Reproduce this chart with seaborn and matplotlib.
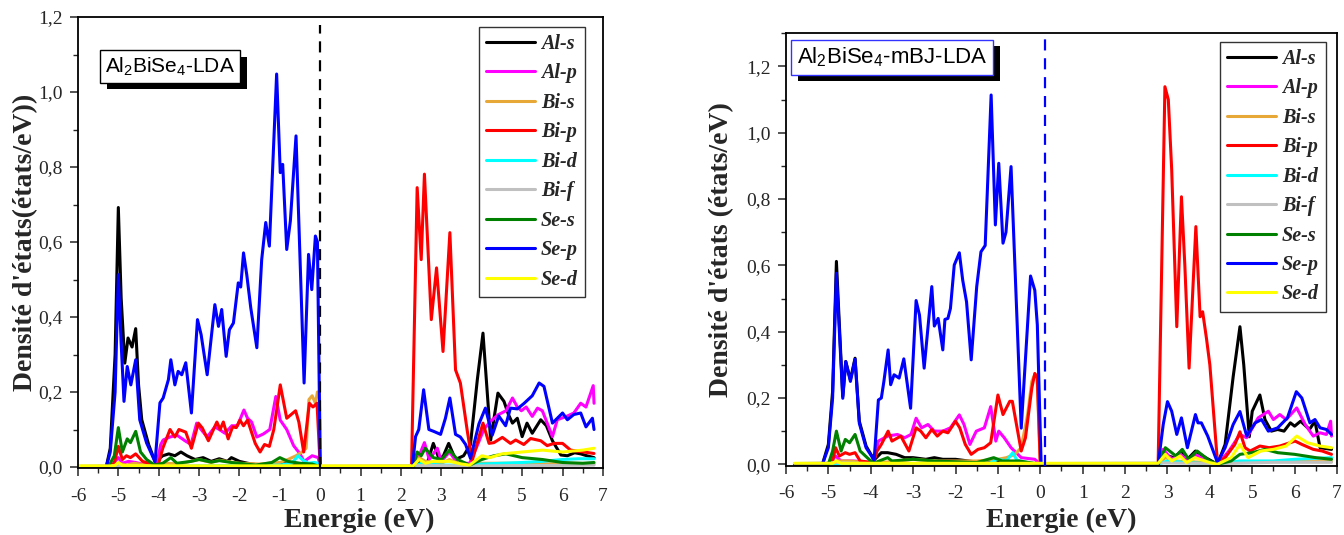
import numpy as np
import pandas as pd
import matplotlib
matplotlib.use("Agg")
import matplotlib.pyplot as plt
import matplotlib.patheffects as pe
from matplotlib.lines import Line2D
from matplotlib.ticker import MultipleLocator, FuncFormatter
import seaborn as sns

# Orbitals and their colours (legend order = drawing order)
orbitals = ["Al-s", "Al-p", "Bi-s", "Bi-p", "Bi-d", "Bi-f", "Se-s", "Se-p", "Se-d"]
colors = ["#000000", "#ff00ff", "#e8a838", "#ff0000", "#00ffff",
          "#c0c0c0", "#008000", "#0000ff", "#ffff00"]

# ---------------- Al2BiSe4 - LDA  (energy eV, DOS) ----------------
lda_al_s = [(-6.0, 0), (-5.3, 0), (-5.2, 0.05), (-5.08, 0.3), (-5.0, 0.692), (-4.93, 0.45),
            (-4.84, 0.277), (-4.76, 0.344), (-4.66, 0.32), (-4.57, 0.369), (-4.5, 0.22),
            (-4.42, 0.126), (-4.25, 0.06), (-4.09, 0.014), (-3.9, 0.03), (-3.75, 0.035),
            (-3.6, 0.03), (-3.45, 0.04), (-3.3, 0.03), (-3.1, 0.02), (-2.9, 0.025),
            (-2.7, 0.015), (-2.5, 0.022), (-2.3, 0.015), (-2.2, 0.025), (-2.0, 0.015),
            (-1.8, 0.01), (-1.5, 0.005), (-1.0, 0.01), (-0.5, 0.005), (0.0, 0), (2.3, 0),
            (2.5, 0.02), (2.65, 0.01), (2.8, 0.063), (2.95, 0.02), (3.05, 0.03), (3.18, 0.063),
            (3.35, 0.02), (3.55, 0.03), (3.72, 0.06), (3.89, 0.233), (4.03, 0.357), (4.22, 0.072),
            (4.4, 0.197), (4.55, 0.175), (4.66, 0.14), (4.76, 0.117), (4.88, 0.13), (5.0, 0.081),
            (5.12, 0.117), (5.25, 0.09), (5.46, 0.126), (5.6, 0.11), (5.75, 0.07), (5.96, 0.032),
            (6.12, 0.03), (6.3, 0.038), (6.45, 0.035), (6.6, 0.03), (6.78, 0.025)]
lda_al_p = [(-6.0, 0), (-5.2, 0), (-5.0, 0.025), (-4.9, 0.01), (-4.75, 0.015), (-4.57, 0.012),
            (-4.3, 0.005), (-4.05, 0.005), (-3.95, 0.06), (-3.89, 0.072), (-3.72, 0.08),
            (-3.55, 0.085), (-3.35, 0.07), (-3.2, 0.06), (-3.06, 0.117), (-2.95, 0.1),
            (-2.8, 0.08), (-2.61, 0.107), (-2.5, 0.1), (-2.36, 0.09), (-2.19, 0.11),
            (-2.05, 0.11), (-1.89, 0.152), (-1.8, 0.13), (-1.7, 0.12), (-1.57, 0.08),
            (-1.41, 0.088), (-1.25, 0.1), (-1.1, 0.188), (-0.99, 0.125), (-0.83, 0.1),
            (-0.66, 0.057), (-0.5, 0.035), (-0.4, 0.015), (-0.2, 0.03), (-0.05, 0.025), (0.0, 0),
            (2.3, 0), (2.45, 0.03), (2.58, 0.065), (2.7, 0.02), (2.9, 0.05), (3.0, 0.015),
            (3.2, 0.04), (3.4, 0.01), (3.7, 0.01), (3.9, 0.06), (4.05, 0.1), (4.2, 0.12),
            (4.4, 0.139), (4.6, 0.15), (4.76, 0.184), (4.88, 0.16), (4.98, 0.15), (5.1, 0.16),
            (5.25, 0.135), (5.38, 0.157), (5.5, 0.15), (5.62, 0.117), (5.75, 0.081), (5.87, 0.126),
            (6.12, 0.136), (6.28, 0.144), (6.45, 0.17), (6.58, 0.16), (6.76, 0.217), (6.78, 0.17)]
lda_bi_s = [(-6.0, 0), (-5.2, 0), (-5.0, 0.01), (-4.8, 0.005), (-4.6, 0.01), (-4.2, 0.003),
            (-4.0, 0.005), (-3.8, 0.01), (-3.5, 0.008), (-3.0, 0.02), (-2.7, 0.012), (-2.5, 0.018),
            (-2.0, 0.01), (-1.5, 0.008), (-1.0, 0.012), (-0.8, 0.02), (-0.6, 0.03), (-0.45, 0.04),
            (-0.35, 0.05), (-0.28, 0.18), (-0.2, 0.19), (-0.12, 0.17), (-0.07, 0.2), (-0.02, 0.2),
            (0.0, 0), (2.3, 0), (2.45, 0.025), (2.6, 0.015), (3.0, 0.01), (3.2, 0.02), (3.5, 0.005),
            (4.0, 0.01), (5.0, 0.01), (6.0, 0.008), (6.78, 0.008)]
lda_bi_p = [(-6.0, 0), (-5.25, 0), (-5.1, 0.01), (-5.0, 0.055), (-4.9, 0.02), (-4.8, 0.03),
            (-4.7, 0.025), (-4.57, 0.035), (-4.4, 0.015), (-4.1, 0.005), (-4.0, 0.01), (-3.9, 0.05),
            (-3.72, 0.1), (-3.6, 0.08), (-3.5, 0.1), (-3.33, 0.093), (-3.19, 0.05), (-3.02, 0.117),
            (-2.92, 0.104), (-2.77, 0.07), (-2.56, 0.12), (-2.48, 0.1), (-2.4, 0.12), (-2.28, 0.075),
            (-2.17, 0.107), (-2.08, 0.105), (-1.99, 0.125), (-1.9, 0.11), (-1.8, 0.125),
            (-1.61, 0.063), (-1.49, 0.04), (-1.38, 0.06), (-1.26, 0.055), (-1.15, 0.1),
            (-0.99, 0.219), (-0.83, 0.13), (-0.72, 0.14), (-0.61, 0.15), (-0.53, 0.12),
            (-0.41, 0.04), (-0.27, 0.17), (-0.18, 0.16), (-0.08, 0.17), (0.0, 0), (2.26, 0),
            (2.4, 0.745), (2.5, 0.553), (2.58, 0.781), (2.75, 0.393), (2.88, 0.531), (3.04, 0.308),
            (3.21, 0.625), (3.35, 0.259), (3.47, 0.224), (3.64, 0.097), (3.76, 0.016), (3.93, 0.08),
            (4.03, 0.117), (4.18, 0.063), (4.3, 0.065), (4.51, 0.079), (4.71, 0.063), (4.84, 0.072),
            (5.04, 0.06), (5.21, 0.076), (5.46, 0.07), (5.62, 0.057), (5.79, 0.063), (6.0, 0.063),
            (6.2, 0.045), (6.53, 0.04), (6.78, 0.036)]
lda_bi_d = [(-6.0, 0), (-4.0, 0), (-3.0, 0.003), (-1.0, 0.005), (-0.7, 0.01), (-0.55, 0.03),
            (-0.45, 0.02), (-0.3, 0.01), (-0.15, 0.012), (-0.05, 0.01), (0.0, 0), (2.3, 0),
            (2.5, 0.01), (3.0, 0.005), (3.5, 0.005), (4.0, 0.008), (4.5, 0.01), (5.0, 0.012),
            (5.5, 0.015), (6.0, 0.02), (6.4, 0.022), (6.78, 0.022)]
lda_bi_f = [(-6.0, 0.002), (-5.0, 0.004), (-4.0, 0.002), (0.0, 0.002), (2.4, 0.004),
            (4.0, 0.003), (6.78, 0.005)]
lda_se_s = [(-6.0, 0), (-5.25, 0), (-5.1, 0.03), (-5.0, 0.105), (-4.9, 0.04), (-4.78, 0.075),
            (-4.7, 0.065), (-4.57, 0.095), (-4.45, 0.04), (-4.3, 0.02), (-4.1, 0.005), (-3.9, 0.01),
            (-3.7, 0.025), (-3.55, 0.01), (-3.2, 0.015), (-3.0, 0.02), (-2.7, 0.013), (-2.5, 0.017),
            (-2.2, 0.012), (-2.0, 0.01), (-1.6, 0.005), (-1.2, 0.012), (-1.0, 0.025), (-0.8, 0.015),
            (-0.5, 0.01), (-0.2, 0.008), (0.0, 0), (2.3, 0), (2.4, 0.04), (2.5, 0.03), (2.6, 0.05),
            (2.8, 0.025), (3.0, 0.02), (3.2, 0.045), (3.4, 0.02), (3.7, 0.005), (4.0, 0.02),
            (4.3, 0.03), (4.6, 0.035), (5.0, 0.025), (5.5, 0.02), (6.0, 0.012), (6.5, 0.01),
            (6.78, 0.012)]
lda_se_p = [(-6.0, 0), (-5.3, 0), (-5.2, 0.04), (-5.08, 0.2), (-5.0, 0.513), (-4.93, 0.33),
            (-4.86, 0.175), (-4.78, 0.268), (-4.69, 0.219), (-4.57, 0.286), (-4.47, 0.126),
            (-4.3, 0.064), (-4.09, 0.014), (-3.97, 0.171), (-3.89, 0.184), (-3.76, 0.233),
            (-3.7, 0.286), (-3.6, 0.219), (-3.52, 0.255), (-3.43, 0.246), (-3.33, 0.278),
            (-3.19, 0.144), (-3.04, 0.393), (-2.95, 0.353), (-2.8, 0.246), (-2.61, 0.433),
            (-2.52, 0.375), (-2.44, 0.42), (-2.33, 0.295), (-2.25, 0.366), (-2.15, 0.384),
            (-2.03, 0.491), (-1.97, 0.48), (-1.9, 0.571), (-1.82, 0.513), (-1.72, 0.424),
            (-1.57, 0.318), (-1.45, 0.553), (-1.35, 0.652), (-1.26, 0.589), (-1.08, 1.048),
            (-0.99, 0.785), (-0.93, 0.807), (-0.83, 0.58), (-0.74, 0.656), (-0.6, 0.883),
            (-0.4, 0.224), (-0.29, 0.567), (-0.21, 0.473), (-0.12, 0.616), (-0.07, 0.6), (0.0, 0),
            (2.28, 0), (2.36, 0.081), (2.44, 0.1), (2.56, 0.206), (2.69, 0.1), (2.81, 0.095),
            (2.98, 0.087), (3.1, 0.13), (3.21, 0.184), (3.35, 0.087), (3.47, 0.08), (3.6, 0.06),
            (3.72, 0.023), (3.93, 0.115), (4.09, 0.157), (4.26, 0.085), (4.42, 0.136), (4.59, 0.11),
            (4.71, 0.157), (4.88, 0.155), (5.04, 0.169), (5.25, 0.19), (5.42, 0.224), (5.54, 0.215),
            (5.75, 0.117), (6.0, 0.144), (6.12, 0.126), (6.28, 0.14), (6.45, 0.144), (6.58, 0.107),
            (6.74, 0.13), (6.78, 0.1)]
lda_se_d = [(-6.0, 0.003), (-5.1, 0.003), (-5.0, 0.012), (-4.9, 0.004), (-4.0, 0.003),
            (0.0, 0.003), (2.3, 0.003), (2.45, 0.02), (2.6, 0.01), (2.8, 0.015), (3.2, 0.015),
            (3.5, 0.008), (3.7, 0.005), (4.0, 0.03), (4.2, 0.025), (4.5, 0.035), (5.0, 0.04),
            (5.5, 0.045), (6.0, 0.04), (6.5, 0.045), (6.78, 0.05)]

# ---------------- Al2BiSe4 - mBJ-LDA ----------------
mbj_al_s = [(-5.8, 0), (-5.14, 0), (-5.0, 0.06), (-4.9, 0.22), (-4.81, 0.612), (-4.74, 0.42),
            (-4.66, 0.205), (-4.59, 0.31), (-4.48, 0.255), (-4.37, 0.32), (-4.27, 0.13),
            (-4.11, 0.055), (-3.92, 0.013), (-3.75, 0.035), (-3.6, 0.035), (-3.4, 0.03),
            (-3.2, 0.02), (-3.0, 0.02), (-2.7, 0.015), (-2.5, 0.02), (-2.3, 0.015), (-2.0, 0.015),
            (-1.7, 0.01), (-1.4, 0.005), (-1.0, 0.01), (-0.5, 0.005), (0.0, 0), (2.78, 0),
            (2.9, 0.03), (3.15, 0.02), (3.33, 0.04), (3.47, 0.015), (3.66, 0.04), (3.9, 0.02),
            (4.18, 0), (4.36, 0.06), (4.55, 0.264), (4.71, 0.415), (4.8, 0.3), (4.93, 0.083),
            (5.0, 0.16), (5.18, 0.209), (5.3, 0.135), (5.45, 0.1), (5.6, 0.105), (5.75, 0.1),
            (5.9, 0.125), (6.0, 0.115), (6.14, 0.13), (6.35, 0.105), (6.48, 0.13), (6.6, 0.05),
            (6.87, 0.045)]
mbj_al_p = [(-5.8, 0), (-5.0, 0), (-4.83, 0.025), (-4.7, 0.01), (-4.4, 0.01), (-4.0, 0.005),
            (-3.9, 0.02), (-3.82, 0.07), (-3.6, 0.085), (-3.37, 0.09), (-3.2, 0.08), (-3.05, 0.09),
            (-2.93, 0.139), (-2.8, 0.11), (-2.65, 0.12), (-2.5, 0.1), (-2.3, 0.1), (-2.12, 0.11),
            (-1.91, 0.149), (-1.8, 0.12), (-1.66, 0.06), (-1.51, 0.1), (-1.32, 0.11),
            (-1.17, 0.174), (-1.05, 0.07), (-0.98, 0.1), (-0.85, 0.08), (-0.69, 0.05),
            (-0.45, 0.02), (-0.13, 0.015), (0.0, 0), (2.78, 0), (2.9, 0.045), (3.1, 0.015),
            (3.3, 0.03), (3.5, 0.01), (3.66, 0.03), (3.9, 0.01), (4.18, 0), (4.45, 0.04),
            (4.71, 0.09), (4.87, 0.08), (5.14, 0.14), (5.38, 0.16), (5.5, 0.135), (5.65, 0.15),
            (5.8, 0.135), (6.05, 0.17), (6.25, 0.12), (6.44, 0.085), (6.6, 0.095), (6.75, 0.09),
            (6.85, 0.13), (6.87, 0.085)]
mbj_bi_s = [(-5.8, 0), (-5.0, 0), (-4.8, 0.01), (-4.5, 0.01), (-4.0, 0.003), (-3.5, 0.008),
            (-3.0, 0.015), (-2.5, 0.01), (-2.0, 0.01), (-1.5, 0.01), (-1.0, 0.015), (-0.8, 0.02),
            (-0.6, 0.03), (-0.45, 0.05), (-0.3, 0.15), (-0.2, 0.25), (-0.15, 0.265), (-0.08, 0.27),
            (0.0, 0), (2.78, 0), (2.95, 0.02), (3.2, 0.01), (4.0, 0.005), (5.0, 0.008),
            (6.0, 0.008), (6.87, 0.008)]
mbj_bi_p = [(-5.8, 0), (-5.0, 0), (-4.9, 0.01), (-4.83, 0.05), (-4.74, 0.025), (-4.6, 0.035),
            (-4.5, 0.03), (-4.37, 0.035), (-4.25, 0.01), (-3.95, 0.005), (-3.85, 0.04),
            (-3.75, 0.06), (-3.59, 0.1), (-3.5, 0.07), (-3.29, 0.085), (-3.1, 0.04), (-2.93, 0.11),
            (-2.82, 0.1), (-2.7, 0.08), (-2.56, 0.105), (-2.43, 0.085), (-2.3, 0.1), (-2.18, 0.095),
            (-2.0, 0.13), (-1.9, 0.11), (-1.77, 0.06), (-1.63, 0.03), (-1.47, 0.045), (-1.32, 0.05),
            (-1.17, 0.065), (-1.0, 0.209), (-0.88, 0.15), (-0.72, 0.19), (-0.66, 0.19),
            (-0.45, 0.04), (-0.35, 0.08), (-0.2, 0.23), (-0.13, 0.274), (-0.07, 0.26), (0.0, 0),
            (2.78, 0), (2.94, 1.139), (3.02, 1.1), (3.1, 0.888), (3.22, 0.415), (3.33, 0.807),
            (3.41, 0.6), (3.51, 0.29), (3.67, 0.717), (3.77, 0.445), (3.83, 0.46), (3.92, 0.38),
            (4.0, 0.3), (4.18, 0.005), (4.36, 0.02), (4.59, 0.06), (4.71, 0.098), (4.83, 0.05),
            (4.95, 0.04), (5.18, 0.055), (5.4, 0.05), (5.65, 0.055), (6.01, 0.07), (6.17, 0.06),
            (6.44, 0.045), (6.65, 0.04), (6.87, 0.03)]
mbj_bi_d = [(-5.8, 0), (-1.2, 0.003), (-1.0, 0.015), (-0.8, 0.01), (-0.65, 0.035),
            (-0.55, 0.012), (-0.3, 0.005), (0.0, 0), (2.78, 0), (3.0, 0.01), (3.5, 0.005),
            (4.2, 0), (4.7, 0.01), (5.5, 0.01), (6.0, 0.015), (6.87, 0.02)]
mbj_bi_f = [(-5.8, 0.002), (-4.8, 0.005), (-4.0, 0.002), (0.0, 0.002), (3.0, 0.004),
            (4.2, 0.002), (5.5, 0.006), (6.87, 0.006)]
mbj_se_s = [(-5.8, 0), (-5.0, 0), (-4.9, 0.04), (-4.81, 0.1), (-4.7, 0.04), (-4.6, 0.075),
            (-4.5, 0.065), (-4.37, 0.09), (-4.25, 0.04), (-4.0, 0.01), (-3.9, 0.005), (-3.6, 0.02),
            (-3.5, 0.01), (-3.0, 0.015), (-2.5, 0.01), (-1.5, 0.005), (-1.1, 0.02), (-0.9, 0.01),
            (-0.5, 0.01), (0.0, 0), (2.78, 0), (2.95, 0.05), (3.2, 0.025), (3.35, 0.045),
            (3.5, 0.015), (3.7, 0.04), (4.0, 0.01), (4.18, 0), (4.5, 0.01), (4.71, 0.03),
            (5.0, 0.035), (5.3, 0.045), (5.6, 0.035), (6.0, 0.03), (6.5, 0.02), (6.87, 0.015)]
mbj_se_p = [(-5.8, 0), (-5.14, 0), (-5.0, 0.05), (-4.9, 0.2), (-4.81, 0.576), (-4.74, 0.4),
            (-4.66, 0.199), (-4.59, 0.31), (-4.48, 0.25), (-4.37, 0.317), (-4.27, 0.124),
            (-4.11, 0.05), (-3.92, 0.013), (-3.82, 0.194), (-3.75, 0.2), (-3.69, 0.25),
            (-3.59, 0.345), (-3.53, 0.24), (-3.45, 0.27), (-3.33, 0.26), (-3.22, 0.318),
            (-3.06, 0.169), (-2.93, 0.494), (-2.85, 0.45), (-2.74, 0.29), (-2.56, 0.536),
            (-2.5, 0.417), (-2.41, 0.44), (-2.3, 0.345), (-2.25, 0.437), (-2.18, 0.44),
            (-2.12, 0.47), (-2.03, 0.601), (-1.91, 0.638), (-1.83, 0.555), (-1.74, 0.49),
            (-1.63, 0.315), (-1.5, 0.536), (-1.4, 0.641), (-1.3, 0.66), (-1.16, 1.114),
            (-1.06, 0.722), (-0.98, 0.908), (-0.88, 0.667), (-0.81, 0.7), (-0.69, 0.898),
            (-0.45, 0.109), (-0.23, 0.568), (-0.13, 0.525), (-0.07, 0.42), (0.02, 0), (2.78, 0),
            (2.9, 0.12), (3.0, 0.189), (3.1, 0.16), (3.16, 0.125), (3.22, 0.09), (3.33, 0.14),
            (3.47, 0.05), (3.66, 0.15), (3.72, 0.125), (3.8, 0.125), (3.95, 0.085), (4.18, 0.005),
            (4.36, 0.05), (4.55, 0.12), (4.71, 0.159), (4.87, 0.085), (5.07, 0.125), (5.22, 0.135),
            (5.38, 0.1), (5.6, 0.11), (5.83, 0.14), (6.04, 0.219), (6.17, 0.2), (6.36, 0.125),
            (6.48, 0.135), (6.6, 0.11), (6.75, 0.105), (6.87, 0.09)]
mbj_se_d = [(-5.8, 0.003), (-4.9, 0.003), (-4.81, 0.01), (-4.7, 0.003), (0.0, 0.003),
            (2.78, 0.003), (2.95, 0.03), (3.1, 0.01), (3.3, 0.025), (3.45, 0.005), (3.65, 0.02),
            (4.0, 0.005), (4.18, 0), (4.5, 0.02), (4.71, 0.06), (4.9, 0.02), (5.2, 0.04),
            (5.5, 0.045), (5.8, 0.055), (6.05, 0.085), (6.3, 0.065), (6.6, 0.055), (6.87, 0.05)]

lda_series = [lda_al_s, lda_al_p, lda_bi_s, lda_bi_p, lda_bi_d, lda_bi_f, lda_se_s, lda_se_p, lda_se_d]
mbj_series = [mbj_al_s, mbj_al_p, mbj_bi_s, mbj_bi_p, mbj_bi_d, mbj_bi_f, mbj_se_s, mbj_se_p, mbj_se_d]

x_ticks = [-6, -5, -4, -3, -2, -1, 0, 1, 2, 3, 4, 5, 6, 7]


def to_frame(series):
    rows = []
    for name, pts in zip(orbitals, series):
        for e, d in pts:
            rows.append((name, e, d))
    return pd.DataFrame(rows, columns=["orbital", "energy", "dos"])


# Style
sns.set_style("ticks")
plt.rcParams["font.family"] = ["Liberation Serif", "DejaVu Serif"]
plt.rcParams["axes.unicode_minus"] = False
plt.rcParams["mathtext.fontset"] = "custom"
plt.rcParams["mathtext.rm"] = "Liberation Sans"
plt.rcParams["mathtext.it"] = "Liberation Sans:italic"
plt.rcParams["lines.solid_joinstyle"] = "round"

fig = plt.figure(figsize=(13.44, 5.35), dpi=100)
ax1 = fig.add_axes([0.0580, 0.1243, 0.3906, 0.8439])
ax2 = fig.add_axes([0.5848, 0.1297, 0.4100, 0.8080])

comma = FuncFormatter(lambda v, p: f"{v:.1f}".replace(".", ","))


def label_box(ax, x, y, text, edge, size):
    # white box with a solid black drop shadow
    t = ax.text(x, y, text, transform=ax.transAxes, fontsize=size, family="Liberation Sans",
                color="black", va="top", ha="left", zorder=10,
                bbox=dict(boxstyle="square,pad=0.25", fc="white", ec=edge, lw=1))
    t.get_bbox_patch().set_path_effects(
        [pe.SimplePatchShadow(offset=(5, -4.6), shadow_rgbFace="black", alpha=1.0), pe.Normal()])


def draw_panel(ax, series, ytop, fermi, fermi_color, fermi_top, ylabel, box_text, box_edge,
               box_xy, box_size, ylab_x, xlab_xy, leg_anchor):
    df = to_frame(series)
    sns.lineplot(data=df, x="energy", y="dos", hue="orbital", hue_order=orbitals,
                 palette=colors, estimator=None, sort=False, lw=2.2, ax=ax, legend=False)
    ax.axvline(fermi, ymin=0, ymax=fermi_top, color=fermi_color, ls=(0, (5, 3.5)), lw=1.6, zorder=5)

    ax.set_xlim(-6, 7)
    ax.set_ylim(-0.004, ytop)
    ax.set_xticks(x_ticks)
    ax.xaxis.set_minor_locator(MultipleLocator(0.5))
    ax.set_yticks([0, 0.2, 0.4, 0.6, 0.8, 1.0, 1.2])
    ax.yaxis.set_minor_locator(MultipleLocator(0.1))
    ax.yaxis.set_major_formatter(comma)
    ax.tick_params(which="major", direction="out", length=6, width=1.1, labelsize=14)
    ax.tick_params(axis="x", which="major", pad=8)
    ax.tick_params(axis="y", which="major", pad=5)
    ax.tick_params(which="minor", direction="out", length=3.5, width=1.0)
    for s in ax.spines.values():
        s.set_linewidth(1.3)
        s.set_color("black")

    ax.set_xlabel("Energie (eV)", fontsize=20, fontweight="bold")
    ax.xaxis.label.set_va("center")
    ax.xaxis.set_label_coords(*xlab_xy)
    ax.set_ylabel(ylabel, fontsize=20, fontweight="bold")
    ax.yaxis.label.set_va("center")
    ax.yaxis.set_label_coords(ylab_x, 0.5)

    label_box(ax, box_xy[0], box_xy[1], box_text, box_edge, box_size)

    handles = [Line2D([], [], color=c, lw=2.2) for c in colors]
    leg = ax.legend(handles, orbitals, loc="upper right", bbox_to_anchor=leg_anchor,
                    borderaxespad=0, fancybox=False, framealpha=1, edgecolor="#333333",
                    handlelength=2.45, handletextpad=0.3, labelspacing=0.47, borderpad=0.35,
                    prop={"family": "Liberation Serif", "weight": "bold", "style": "italic",
                          "size": 14.5})
    leg.get_frame().set_linewidth(1.0)


draw_panel(ax1, lda_series, 1.2, 0.0, "black", 0.982, "Densité d'états(états/eV))",
           "Al$_2$BiSe$_4$-LDA", "black", (0.052, 0.915), 15.0, -0.100, (0.535, -0.114),
           (0.966, 0.978))
draw_panel(ax2, mbj_series, 1.3, 0.12, "#0000ff", 0.989, "Densité d'états (états/eV)",
           "Al$_2$BiSe$_4$-mBJ-LDA", "#3333ff", (0.020, 0.972), 16.0, -0.116, (0.5, -0.126),
           (0.98, 0.9806))

plt.savefig("out.png", dpi=100)
